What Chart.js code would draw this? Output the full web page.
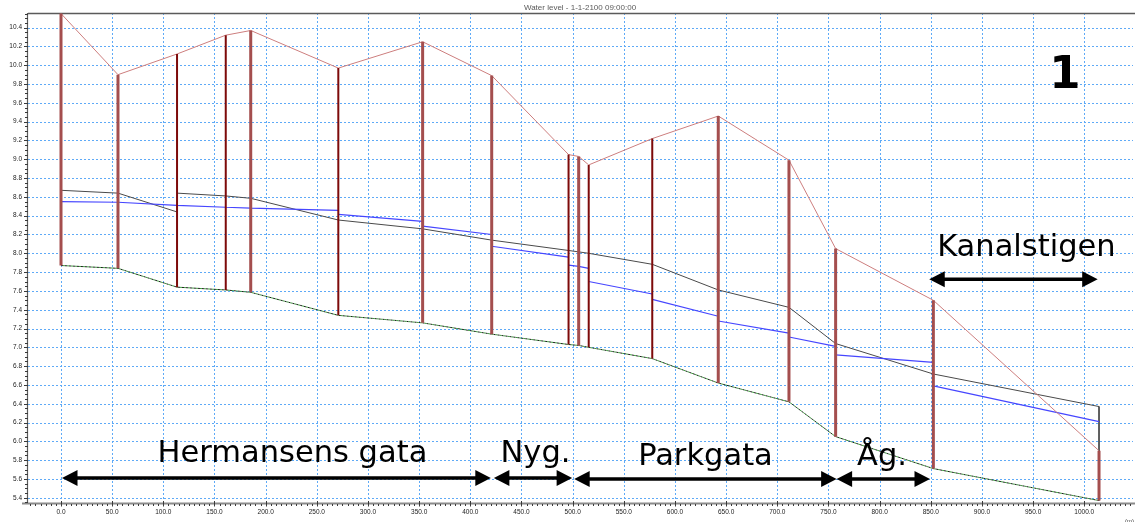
<!DOCTYPE html>
<html>
<head>
<meta charset="utf-8">
<script src="https://cdn.jsdelivr.net/npm/chart.js@4/dist/chart.umd.min.js"></script>
<style>
  html, body { margin: 0; padding: 0; background: #fff; overflow: hidden; }
  canvas { display: block; }
</style>
</head>
<body>
<canvas id="profile" width="1135" height="522"></canvas>
<script>
// Longitudinal profile, chainage in metres, levels in metres
const chainage    = [0, 55.7, 113.4, 161.0, 185.4, 271.0, 353.4, 420.9, 496.0, 505.9, 515.7, 577.8, 642.3, 711.4, 757.0, 852.5, 1014.4];
const groundLevel = [10.55, 9.90, 10.12, 10.32, 10.37, 9.97, 10.25, 9.89, 9.05, 9.03, 8.94, 9.22, 9.46, 8.99, 8.05, 7.50, 5.90];
const invertLevel = [7.87, 7.84, 7.64, 7.61, 7.585, 7.34, 7.26, 7.14, 7.03, 7.02, 7.00, 6.88, 6.62, 6.42, 6.05, 5.71, 5.37];

// Pipe crown per pipe (upstream end / downstream end)
const crownUp   = [8.67, 8.64, 8.64, 8.61, 8.585, 8.354, 8.26, 8.14, 8.03, 8.015, 8.00, 7.883, 7.61, 7.425, 7.04, 6.716];
const crownDown = [8.64, 8.44, 8.61, 8.585, 8.354, 8.26, 8.14, 8.03, 8.015, 8.00, 7.883, 7.61, 7.425, 7.04, 6.716, 6.37];

// Water level per pipe (upstream end / downstream end)
const waterUp   = [8.55, 8.543, 8.51, 8.49, 8.48, 8.415, 8.29, 8.075, 7.875, 7.86, 7.70, 7.51, 7.28, 7.11, 6.92, 6.59];
const waterDown = [8.543, 8.51, 8.49, 8.48, 8.457, 8.34, 8.20, 7.96, 7.86, 7.84, 7.567, 7.33, 7.15, 7.01, 6.84, 6.21];

// Street sections along the profile
const streets    = ['Hermansens gata', 'Nyg.', 'Parkgata', 'Åg.', 'Kanalstigen'];
const streetFrom = [1.0, 423.0, 501.5, 758.0, 848.5];
const streetTo   = [420.0, 499.5, 758.0, 849.2, 1013.1];

// Axis ticks
const xTicks = [0, 50, 100, 150, 200, 250, 300, 350, 400, 450, 500, 550, 600, 650, 700, 750, 800, 850, 900, 950, 1000];
const yTicks = [5.4, 5.6, 5.8, 6.0, 6.2, 6.4, 6.6, 6.8, 7.0, 7.2, 7.4, 7.6, 7.8, 8.0, 8.2, 8.4, 8.6, 8.8, 9.0, 9.2, 9.4, 9.6, 9.8, 10.0, 10.2, 10.4];

const plotTitle = 'Water level - 1-1-2100 09:00:00';
const sheetNo = '1';

// ---- drawing setup ----
const heavyWells = new Set([0, 1, 4, 6, 7, 9, 12, 13, 14, 15, 16]);

const streetLayout = [
  { labelAt: 226.2, labelLevel: 5.784, arrowLevel: 5.61 },
  { labelAt: 463.7, labelLevel: 5.784, arrowLevel: 5.61 },
  { labelAt: 629.8, labelLevel: 5.752, arrowLevel: 5.60 },
  { labelAt: 802.3, labelLevel: 5.752, arrowLevel: 5.60 },
  { labelAt: 943.4, labelLevel: 7.971, arrowLevel: 7.723 }
];

function pipeSeries(up, down) {
  const pts = [];
  up.forEach((v, i) => {
    pts.push({ x: chainage[i], y: v }, { x: chainage[i + 1], y: down[i] }, { x: chainage[i + 1], y: null });
  });
  return pts;
}

const crownPts = pipeSeries(crownUp, crownDown);
const last = chainage.length - 1;
crownPts.push({ x: chainage[last], y: crownDown[crownDown.length - 1] }, { x: chainage[last], y: invertLevel[last] });

function wellPts(heavy) {
  const pts = [];
  chainage.forEach((c, i) => {
    if (heavyWells.has(i) === heavy) {
      pts.push({ x: c, y: invertLevel[i] }, { x: c, y: groundLevel[i] }, { x: c, y: null });
    }
  });
  return pts;
}

const groundPts = chainage.map((c, i) => ({ x: c, y: groundLevel[i] }));
const invertPts = chainage.map((c, i) => ({ x: c, y: invertLevel[i] }));

const tickFont = { family: '"Liberation Sans", Arial, sans-serif', size: 6.5 };

const gridPlugin = {
  id: 'profileGrid',
  beforeDatasetsDraw(chart) {
    const { ctx, chartArea: a, scales: { x, y } } = chart;
    ctx.save();
    ctx.strokeStyle = '#5eaaf7';
    ctx.lineWidth = 1;
    ctx.setLineDash([2, 2]);
    xTicks.forEach(v => {
      const px = Math.round(x.getPixelForValue(v)) + 0.5;
      ctx.beginPath(); ctx.moveTo(px, a.top); ctx.lineTo(px, a.bottom); ctx.stroke();
    });
    yTicks.forEach(v => {
      const py = Math.round(y.getPixelForValue(v)) + 0.5;
      ctx.beginPath(); ctx.moveTo(a.left, py); ctx.lineTo(a.right, py); ctx.stroke();
    });
    ctx.setLineDash([]);

    // frame
    ctx.strokeStyle = '#5a5a5a';
    ctx.lineWidth = 1.5;
    ctx.beginPath(); ctx.moveTo(a.left, a.top + 0.5); ctx.lineTo(chart.width, a.top + 0.5); ctx.stroke();
    ctx.lineWidth = 1.2;
    ctx.beginPath(); ctx.moveTo(a.left - 0.5, a.top); ctx.lineTo(a.left - 0.5, a.bottom); ctx.stroke();
    ctx.strokeStyle = '#8a8a8a';
    ctx.lineWidth = 2;
    ctx.beginPath(); ctx.moveTo(a.left - 6, a.bottom + 0.5); ctx.lineTo(chart.width, a.bottom + 0.5); ctx.stroke();

    // minor and major tick marks
    ctx.strokeStyle = '#3a3a3a';
    ctx.lineWidth = 1;
    for (let k = Math.ceil(y.min / 0.05); k <= Math.floor(y.max / 0.05); k++) {
      const py = Math.round(y.getPixelForValue(k * 0.05)) + 0.5;
      ctx.beginPath(); ctx.moveTo(a.left - 3, py); ctx.lineTo(a.left, py); ctx.stroke();
    }
    yTicks.forEach(v => {
      const py = Math.round(y.getPixelForValue(v)) + 0.5;
      ctx.beginPath(); ctx.moveTo(a.left - 4, py); ctx.lineTo(a.left, py); ctx.stroke();
    });
    for (let k = Math.ceil(x.min / 5); k <= Math.floor(x.max / 5); k++) {
      const px = Math.round(x.getPixelForValue(k * 5)) + 0.5;
      ctx.beginPath(); ctx.moveTo(px, a.bottom + 1); ctx.lineTo(px, a.bottom + 3); ctx.stroke();
    }
    xTicks.forEach(v => {
      const px = Math.round(x.getPixelForValue(v)) + 0.5;
      ctx.beginPath(); ctx.moveTo(px, a.bottom - 2); ctx.lineTo(px, a.bottom + 3.5); ctx.stroke();
    });
    ctx.restore();
  }
};

function drawArrow(ctx, x0, x1, yy) {
  const hl = 15.5, hh = 8;
  ctx.lineWidth = 3.5;
  ctx.strokeStyle = '#000';
  ctx.fillStyle = '#000';
  ctx.beginPath(); ctx.moveTo(x0 + hl - 1, yy); ctx.lineTo(x1 - hl + 1, yy); ctx.stroke();
  ctx.beginPath(); ctx.moveTo(x0, yy); ctx.lineTo(x0 + hl, yy - hh); ctx.lineTo(x0 + hl, yy + hh); ctx.closePath(); ctx.fill();
  ctx.beginPath(); ctx.moveTo(x1, yy); ctx.lineTo(x1 - hl, yy - hh); ctx.lineTo(x1 - hl, yy + hh); ctx.closePath(); ctx.fill();
}

const streetPlugin = {
  id: 'streetSections',
  afterDatasetsDraw(chart) {
    const { ctx, scales: { x, y } } = chart;
    ctx.save();
    streets.forEach((name, i) => {
      const lay = streetLayout[i];
      drawArrow(ctx, x.getPixelForValue(streetFrom[i]), x.getPixelForValue(streetTo[i]), y.getPixelForValue(lay.arrowLevel));
      ctx.font = '30.5px "DejaVu Sans", sans-serif';
      ctx.textAlign = 'center';
      ctx.textBaseline = 'alphabetic';
      ctx.fillStyle = '#000';
      ctx.fillText(name, x.getPixelForValue(lay.labelAt), y.getPixelForValue(lay.labelLevel));
    });
    ctx.restore();
  },
  afterDraw(chart) {
    const { ctx } = chart;
    ctx.save();
    ctx.fillStyle = '#5a5a5a';
    ctx.font = '8px "Liberation Sans", Arial, sans-serif';
    ctx.textAlign = 'center';
    ctx.textBaseline = 'alphabetic';
    ctx.fillText(plotTitle, 580, 10);
    ctx.fillStyle = '#000';
    ctx.font = 'bold 45px "DejaVu Sans", sans-serif';
    ctx.fillText(sheetNo, 1065, 88);
    ctx.fillStyle = '#444';
    ctx.font = '6px "Liberation Sans", Arial, sans-serif';
    ctx.textAlign = 'left';
    ctx.fillText('(m)', 1125, 523);
    ctx.restore();
  }
};

new Chart(document.getElementById('profile'), {
  type: 'line',
  data: {
    datasets: [
      { label: 'Manholes', data: wellPts(true), borderColor: '#a44e4e', borderWidth: 3, spanGaps: false, order: 0, borderCapStyle: 'butt' },
      { label: 'Manholes', data: wellPts(false), borderColor: '#7d0a0a', borderWidth: 2, spanGaps: false, order: 0, borderCapStyle: 'butt' },
      { label: 'Ground level', data: groundPts, borderColor: '#cd7e7e', borderWidth: 1, order: 1 },
      { label: 'Water level', data: pipeSeries(waterUp, waterDown), borderColor: '#4646ff', borderWidth: 1.2, spanGaps: false, order: 2 },
      { label: 'Pipe crown', data: crownPts, borderColor: '#4a4a4a', borderWidth: 1, spanGaps: false, order: 3 },
      { label: 'Invert', data: invertPts, borderColor: '#3b9b3b', borderWidth: 1, borderDash: [2, 2], borderDashOffset: 2, order: 4 },
      { label: 'Invert', data: invertPts, borderColor: '#1e1e1e', borderWidth: 1, borderDash: [2, 2], order: 5 }
    ]
  },
  options: {
    responsive: false,
    animation: false,
    devicePixelRatio: 1,
    layout: { padding: { top: 13, right: 2, left: 0, bottom: 0 } },
    elements: { point: { radius: 0, hoverRadius: 0 }, line: { tension: 0 } },
    plugins: { legend: { display: false }, tooltip: { enabled: false }, title: { display: false } },
    events: [],
    scales: {
      x: {
        type: 'linear',
        min: -32.25,
        max: 1047.6,
        afterBuildTicks: s => { s.ticks = xTicks.map(v => ({ value: v })); },
        afterFit: s => { s.height = 19; },
        grid: { display: false, drawTicks: false },
        border: { display: false },
        ticks: { padding: 5, font: tickFont, color: '#222', maxRotation: 0, autoSkip: false, callback: v => Number(v).toFixed(1) }
      },
      y: {
        type: 'linear',
        min: 5.344,
        max: 10.556,
        afterBuildTicks: s => { s.ticks = yTicks.map(v => ({ value: v })); },
        afterFit: s => { s.width = 28; },
        grid: { display: false, drawTicks: false },
        border: { display: false },
        ticks: { padding: 6, font: tickFont, color: '#222', autoSkip: false, callback: v => Number(v).toFixed(1) }
      }
    }
  },
  plugins: [gridPlugin, streetPlugin]
});
</script>
</body>
</html>
